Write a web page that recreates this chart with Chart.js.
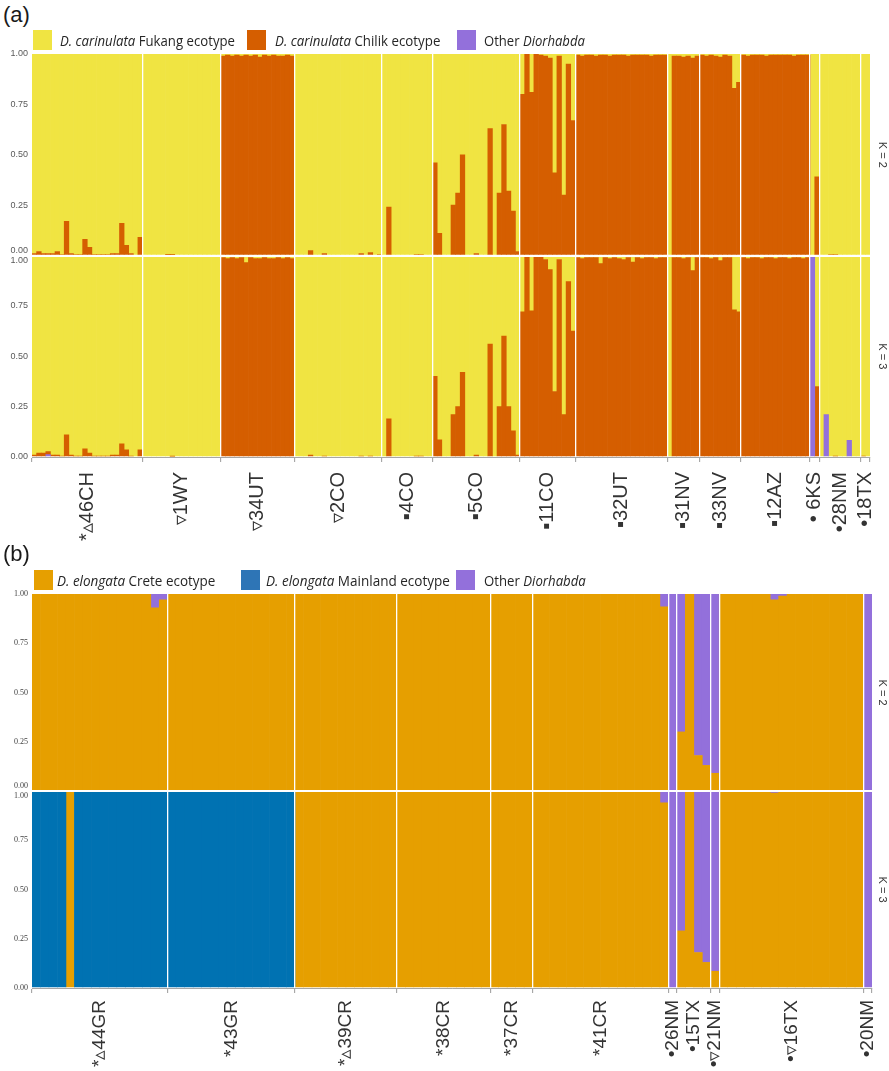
<!DOCTYPE html>
<html>
<head>
<meta charset="utf-8">
<title>Diorhabda ancestry</title>
<script src="https://cdn.jsdelivr.net/npm/chart.js@4.4.1/dist/chart.umd.min.js"></script>
<style>
  body { margin: 0; background: #fff; }
  #page { position: relative; width: 889px; height: 1071px; overflow: hidden; font-family: 'Liberation Sans', Arial, sans-serif; }
  canvas { position: absolute; left: 0; }
  .tag { position: absolute; left: 3px; font-size: 22px; color: #1a1a1a; }
  .sw { position: absolute; width: 19px; height: 20px; }
  .lt { position: absolute; font-family: 'Open Sans', 'Liberation Sans', sans-serif; font-size: 15px; color: #262626; line-height: 20px; white-space: nowrap; transform-origin: 0 50%; }
</style>
</head>
<body>
<div id="page">
  <canvas id="chartA" width="889" height="500" style="top:44px"></canvas>
  <canvas id="chartB" width="889" height="486" style="top:585px"></canvas>

  <div class="tag" style="top:2px">(a)</div>
  <div class="sw" style="left:33px;top:30px;background:#F0E442"></div>
  <div class="lt" data-w="175" style="left:60px;top:30px"><i>D. carinulata</i> Fukang ecotype</div>
  <div class="sw" style="left:247px;top:30px;background:#D55E00"></div>
  <div class="lt" data-w="165" style="left:275px;top:30px"><i>D. carinulata</i> Chilik ecotype</div>
  <div class="sw" style="left:457px;top:30px;background:#9370DB"></div>
  <div class="lt" data-w="101" style="left:484px;top:30px">Other <i>Diorhabda</i></div>

  <div class="tag" style="top:541px">(b)</div>
  <div class="sw" style="left:34px;top:570px;background:#E69F00"></div>
  <div class="lt" data-w="158" style="left:57px;top:570px"><i>D. elongata</i> Crete ecotype</div>
  <div class="sw" style="left:241px;top:570px;background:#2E75B6"></div>
  <div class="lt" data-w="184" style="left:266px;top:570px"><i>D. elongata</i> Mainland ecotype</div>
  <div class="sw" style="left:456px;top:570px;background:#9370DB"></div>
  <div class="lt" data-w="102" style="left:484px;top:570px">Other <i>Diorhabda</i></div>
</div>

<script>
// ---- panel (a): D. carinulata, one inner array per population ----
const popsA = ['*▵46CH', '▿1WY', '▿34UT', '▿2CO', '▪4CO', '▪5CO', '▪11CO', '▪32UT', '▪31NV', '▪33NV', '▪12AZ', '• 6KS', '•28NM', '•18TX'];

// Chilik ecotype share, K = 2
const chilikK2 = [
  [0.01, 0.02, 0.01, 0.01, 0.01, 0.02, 0.005, 0.17, 0.01, 0.005, 0.005, 0.08, 0.04, 0.005, 0.005, 0.005, 0.005, 0.01, 0.01, 0.16, 0.05, 0.01, 0, 0.09],
  [0, 0, 0, 0, 0, 0.004, 0.004, 0, 0, 0, 0, 0, 0, 0, 0, 0, 0],
  [0.99, 0.995, 0.99, 0.995, 0.99, 0.995, 0.99, 0.995, 0.985, 0.995, 0.99, 0.995, 0.99, 0.99, 0.995, 0.99],
  [0, 0, 0, 0.025, 0, 0, 0.01, 0, 0, 0, 0, 0, 0, 0, 0.01, 0, 0.015, 0, 0.005],
  [0, 0.24, 0, 0, 0, 0, 0, 0.005, 0.005, 0, 0],
  [0.46, 0.11, 0, 0, 0.25, 0.31, 0.5, 0, 0, 0.01, 0, 0, 0.63, 0, 0.31, 0.65, 0.32, 0.22, 0.02],
  [0.80, 1, 0.81, 1, 0.995, 0.99, 0.98, 0.41, 0.99, 0.30, 0.95, 0.67],
  [0.995, 0.99, 0.995, 0.995, 0.99, 0.995, 0.995, 0.99, 0.995, 0.995, 0.995, 0.99, 0.995, 0.995, 0.995, 0.995, 0.99, 0.995, 0.995, 0.995],
  [0, 0.99, 0.99, 0.985, 0.99, 0.98, 0.99],
  [0.995, 0.99, 0.995, 0.99, 0.985, 0.995, 0.99, 0.83, 0.86],
  [0.995, 0.99, 0.995, 0.995, 0.995, 0.99, 0.995, 0.995, 0.995, 0.995, 0.995, 0.99, 0.995, 0.995, 0.995],
  [0, 0.39],
  [0, 0, 0.005, 0.005, 0, 0, 0, 0, 0],
  [0, 0]
];

// Chilik ecotype share, K = 3
const chilikK3 = [
  [0.01, 0.02, 0.02, 0.015, 0.01, 0.01, 0.005, 0.11, 0.01, 0.005, 0.005, 0.04, 0.02, 0.005, 0.005, 0.005, 0.005, 0.01, 0.01, 0.065, 0.035, 0.005, 0, 0.035],
  [0, 0, 0, 0, 0, 0, 0.004, 0, 0, 0, 0, 0, 0, 0, 0, 0, 0],
  [0.99, 0.985, 0.99, 0.985, 0.99, 0.965, 0.99, 0.985, 0.985, 0.99, 0.985, 0.985, 0.99, 0.985, 0.99, 0.985],
  [0, 0, 0, 0.01, 0, 0, 0.005, 0, 0, 0, 0, 0, 0, 0, 0.005, 0, 0.005, 0, 0],
  [0, 0.19, 0, 0, 0, 0, 0, 0.005, 0.005, 0, 0],
  [0.40, 0.085, 0, 0, 0.21, 0.25, 0.42, 0, 0, 0.01, 0, 0, 0.56, 0, 0.25, 0.60, 0.25, 0.13, 0.01],
  [0.72, 1, 0.725, 1, 1, 0.98, 0.93, 0.325, 0.98, 0.21, 0.87, 0.625],
  [0.99, 0.985, 0.99, 0.99, 0.99, 0.96, 0.99, 0.985, 0.99, 0.985, 0.98, 0.99, 0.967, 0.99, 0.985, 0.99, 0.99, 0.985, 0.99, 0.99],
  [0, 0.99, 0.99, 0.985, 0.99, 0.925, 0.99],
  [0.99, 0.99, 0.985, 0.99, 0.975, 0.99, 0.99, 0.73, 0.72],
  [0.99, 0.985, 0.99, 0.99, 0.985, 0.99, 0.99, 0.985, 0.99, 0.99, 0.985, 0.99, 0.99, 0.985, 0.99],
  [0, 0.35],
  [0, 0, 0, 0.005, 0, 0, 0, 0, 0],
  [0.005, 0]
];

// Other Diorhabda share, K = 3
const otherK3A = [
  [0, 0, 0, 0.012, 0, 0, 0, 0, 0, 0, 0, 0, 0, 0, 0, 0, 0, 0, 0, 0, 0, 0, 0, 0],
  [0, 0, 0, 0, 0, 0, 0, 0, 0, 0, 0, 0, 0, 0, 0, 0, 0],
  [0, 0, 0, 0, 0, 0, 0, 0, 0, 0, 0, 0, 0, 0, 0, 0],
  [0, 0, 0, 0, 0, 0, 0, 0, 0, 0, 0, 0, 0, 0, 0, 0, 0, 0, 0],
  [0, 0, 0, 0, 0, 0, 0, 0, 0, 0, 0],
  [0, 0, 0, 0, 0, 0, 0, 0, 0, 0, 0, 0, 0, 0, 0, 0, 0, 0, 0],
  [0, 0, 0, 0, 0, 0, 0, 0, 0, 0, 0, 0],
  [0, 0, 0, 0, 0, 0, 0, 0, 0, 0, 0, 0, 0, 0, 0, 0, 0, 0, 0, 0],
  [0, 0, 0, 0, 0, 0, 0],
  [0, 0, 0, 0, 0, 0, 0, 0, 0],
  [0, 0, 0, 0, 0, 0, 0, 0, 0, 0, 0, 0, 0, 0, 0],
  [1, 0],
  [0, 0.21, 0, 0, 0, 0, 0.083, 0, 0],
  [0, 0]
];

// ---- panel (b): D. elongata ----
const popsB = ['*▵44GR', '*43GR', '*▵39CR', '*38CR', '*37CR', '*41CR', '•26NM', '•15TX', '•▿21NM', '•▿16TX', '•20NM'];

// Other Diorhabda share, K = 2
const otherK2B = [
  [0, 0, 0, 0, 0, 0, 0, 0, 0, 0, 0, 0, 0, 0, 0.07, 0.03],
  [0, 0, 0, 0, 0, 0, 0, 0, 0, 0, 0, 0, 0, 0, 0],
  [0, 0, 0, 0, 0, 0, 0, 0, 0, 0, 0, 0],
  [0, 0, 0, 0, 0, 0, 0, 0, 0, 0, 0],
  [0, 0, 0, 0, 0],
  [0, 0, 0, 0, 0, 0, 0, 0, 0, 0, 0, 0, 0, 0, 0, 0.065],
  [1],
  [0.70, 0, 0.82, 0.87],
  [0.91],
  [0, 0, 0, 0, 0, 0, 0.03, 0.01, 0, 0, 0, 0, 0, 0, 0, 0, 0],
  [1]
];

// Mainland ecotype share, K = 3
const mainlandK3 = [
  [0.995, 0.995, 0.995, 0.995, 0, 0.995, 0.995, 0.995, 0.995, 0.995, 0.995, 0.995, 0.995, 0.995, 0.995, 0.995],
  [1, 1, 1, 1, 1, 1, 1, 1, 1, 1, 1, 1, 1, 1, 1],
  [0, 0, 0, 0, 0, 0, 0, 0, 0, 0, 0, 0],
  [0, 0, 0, 0, 0, 0, 0, 0, 0, 0, 0],
  [0, 0, 0, 0, 0],
  [0, 0, 0, 0, 0, 0, 0, 0, 0, 0, 0, 0, 0, 0, 0, 0],
  [0],
  [0, 0, 0, 0],
  [0],
  [0, 0, 0, 0, 0, 0, 0, 0, 0, 0, 0, 0, 0, 0, 0, 0, 0],
  [0]
];

// Other Diorhabda share, K = 3
const otherK3B = [
  [0, 0, 0, 0, 0, 0, 0, 0, 0, 0, 0, 0, 0, 0, 0, 0],
  [0, 0, 0, 0, 0, 0, 0, 0, 0, 0, 0, 0, 0, 0, 0],
  [0, 0, 0, 0, 0, 0, 0, 0, 0, 0, 0, 0],
  [0, 0, 0, 0, 0, 0, 0, 0, 0, 0, 0],
  [0, 0, 0, 0, 0],
  [0, 0, 0, 0, 0, 0, 0, 0, 0, 0, 0, 0, 0, 0, 0, 0.06],
  [1],
  [0.71, 0, 0.82, 0.87],
  [0.915],
  [0, 0, 0, 0, 0, 0, 0.01, 0, 0, 0, 0, 0, 0, 0, 0, 0, 0],
  [1]
];

const yTicks = [0, 0.25, 0.5, 0.75, 1];

// colours
const cFukang = '#F0E442', cChilik = '#D55E00', cOther = '#9370DB';
const cCrete = '#E69F00', cMainland = '#0072B2';

// legend texts: squeeze each to the width it has in the figure (narrow font there)
document.querySelectorAll('.lt').forEach(el => {
  const target = +el.dataset.w;
  const w = el.scrollWidth;
  if (w > 0) el.style.transform = 'scaleX(' + (target / w).toFixed(3) + ')';
});

// helpers
function flat(groups) { return [].concat(...groups); }
// remaining share of each individual once the listed shares are taken out
function rest(...parts) {
  return parts[0].map((_, i) => Math.max(0, +(1 - parts.reduce((s, p) => s + p[i], 0)).toFixed(4)));
}

function makePanel(canvasId, opt) {
  const sizes = opt.groups.map(g => g.length);
  const n = sizes.reduce((a, b) => a + b, 0);
  const edges = [0];
  sizes.forEach(s => edges.push(edges[edges.length - 1] + s));
  const centers = sizes.map((s, i) => edges[i] + s / 2);

  const datasets = [];
  opt.rows.forEach((row, r) => {
    row.forEach(layer => {
      datasets.push({
        label: layer.name,
        data: layer.values.map((v, i) => ({ x: i + 0.5, y: v > 0 ? v : null })),
        backgroundColor: layer.color,
        yAxisID: r === 0 ? 'y2' : 'y3',
        stack: 'all',
        barPercentage: 1,
        categoryPercentage: 1,
        borderWidth: 0
      });
    });
  });

  function rowAxis(top) {
    return {
      type: 'linear', position: 'left', stack: 'rows', stackWeight: 1, weight: top ? 1 : 0,
      min: 0, max: 1, stacked: true, offset: false,
      border: { display: false },
      afterBuildTicks: s => { s.ticks = yTicks.map(v => ({ value: v })); },
      grid: {
        drawTicks: false, z: 1, lineWidth: 2,
        color: c => (top && c.tick && c.tick.value === 0) ? '#ffffff' : 'rgba(0,0,0,0)'
      },
      ticks: {
        padding: 4, font: opt.yFont, color: opt.yColor,
        callback: v => {
          const s = v.toFixed(2);
          if (top && v === 0) return [s, ''];
          if (!top && v === 1) return ['', s];
          return s;
        }
      },
      afterFit: s => { s.width = 32; s.paddingTop = 0; s.paddingBottom = 0; }
    };
  }

  function kAxis(top, text) {
    return {
      type: 'linear', position: 'right', stack: 'k', stackWeight: 1, weight: top ? 0 : 1,
      min: 0, max: 1,
      ticks: { display: false },
      grid: { display: false, drawTicks: false },
      border: { display: false },
      title: { display: true, text: text, font: { size: 11 }, color: '#333', padding: 0 },
      afterFit: s => { s.width = opt.rightW; s.paddingTop = 0; s.paddingBottom = 0; }
    };
  }

  return new Chart(document.getElementById(canvasId), {
    type: 'bar',
    data: { datasets },
    options: {
      responsive: false,
      animation: false,
      devicePixelRatio: 1,
      layout: { padding: { top: opt.padTop, left: 0, right: 0, bottom: 0 } },
      plugins: { legend: { display: false }, tooltip: { enabled: false } },
      scales: {
        // population boundaries: white separators and tick marks
        x: {
          type: 'linear', position: 'bottom', weight: 0, min: 0, max: n, offset: false,
          afterBuildTicks: s => { s.ticks = edges.map(v => ({ value: v })); },
          ticks: { display: false, autoSkip: false },
          grid: {
            offset: false, z: 1, lineWidth: 1.3, drawTicks: true, tickLength: 5,
            tickColor: '#9a9a9a', tickWidth: 1,
            color: c => (c.index > 0 && c.index < edges.length - 1) ? '#ffffff' : 'rgba(0,0,0,0)'
          },
          border: { display: true, color: '#a6a6a6', width: 1, z: 1 },
          afterFit: s => { s.height = 5; s.paddingLeft = 0; s.paddingRight = 0; }
        },
        // population names
        xl: {
          type: 'linear', position: 'bottom', weight: 1, min: 0, max: n, offset: false,
          afterBuildTicks: s => { s.ticks = centers.map(v => ({ value: v })); },
          ticks: {
            autoSkip: false, minRotation: 90, maxRotation: 90, padding: opt.labelPad,
            font: { size: opt.labelSize }, color: '#333',
            callback: (v, i) => opt.labels[i]
          },
          grid: { display: false, drawTicks: false, offset: false },
          border: { display: false },
          afterFit: s => { s.height = opt.labelH; s.paddingLeft = 0; s.paddingRight = 0; }
        },
        y3: rowAxis(false),
        y2: rowAxis(true),
        r2: kAxis(true, 'K = 2'),
        r3: kAxis(false, 'K = 3')
      }
    }
  });
}

Chart.defaults.font.family = "'Liberation Sans', Arial, sans-serif";

// panel (a)
const aChilik2 = flat(chilikK2);
const aChilik3 = flat(chilikK3);
const aOther3 = flat(otherK3A);
makePanel('chartA', {
  groups: chilikK2, labels: popsA,
  padTop: 10, labelH: 82, labelPad: 10, labelSize: 20, rightW: 19,
  yFont: { size: 9 }, yColor: '#595959',
  rows: [
    [
      { name: 'D. carinulata Chilik ecotype', color: cChilik, values: aChilik2 },
      { name: 'D. carinulata Fukang ecotype', color: cFukang, values: rest(aChilik2) }
    ],
    [
      { name: 'Other Diorhabda', color: cOther, values: aOther3 },
      { name: 'D. carinulata Chilik ecotype', color: cChilik, values: aChilik3 },
      { name: 'D. carinulata Fukang ecotype', color: cFukang, values: rest(aChilik3, aOther3) }
    ]
  ]
});

// panel (b)
const bOther2 = flat(otherK2B);
const bMain3 = flat(mainlandK3);
const bOther3 = flat(otherK3B);
makePanel('chartB', {
  groups: otherK2B, labels: popsB,
  padTop: 9, labelH: 78, labelPad: 7, labelSize: 19, rightW: 17,
  yFont: { size: 8, family: "'Liberation Serif', serif" }, yColor: '#404040',
  rows: [
    [
      { name: 'D. elongata Crete ecotype', color: cCrete, values: rest(bOther2) },
      { name: 'Other Diorhabda', color: cOther, values: bOther2 }
    ],
    [
      { name: 'D. elongata Mainland ecotype', color: cMainland, values: bMain3 },
      { name: 'D. elongata Crete ecotype', color: cCrete, values: rest(bMain3, bOther3) },
      { name: 'Other Diorhabda', color: cOther, values: bOther3 }
    ]
  ]
});
</script>
</body>
</html>
